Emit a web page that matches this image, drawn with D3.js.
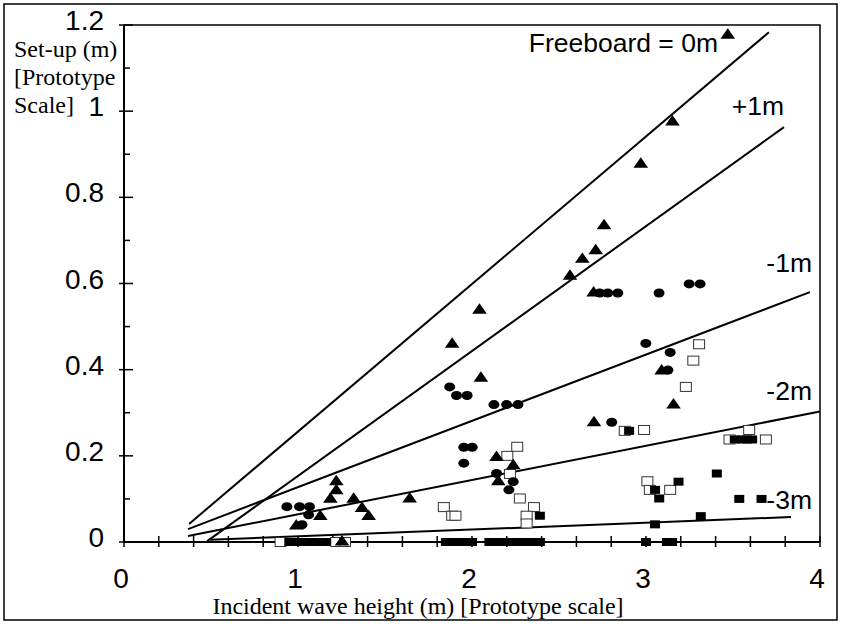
<!DOCTYPE html>
<html>
<head>
<meta charset="utf-8">
<script src="https://cdn.jsdelivr.net/npm/d3@7"></script>
<style>
  body { margin: 0; background: #fff; }
  svg { display: block; }
  .tick-label { font-family: "Liberation Sans", Arial, sans-serif; font-size: 28px; fill: #000; }
  .line-label { font-family: "Liberation Sans", Arial, sans-serif; font-size: 26.5px; fill: #000; }
  .axis-title { font-family: "Liberation Serif", "Times New Roman", serif; font-size: 24px; fill: #000; }
</style>
</head>
<body>
<svg width="842" height="624"></svg>
<script>
  // incident wave height (m), set-up (m)
  const triangles = [
    [3.47, 1.176], [3.152, 0.975], [2.97, 0.877], [2.759, 0.734], [2.711, 0.676],
    [2.634, 0.656], [2.563, 0.617], [2.699, 0.578], [2.043, 0.538], [1.886, 0.459],
    [2.051, 0.38], [2.141, 0.196], [2.237, 0.177], [2.151, 0.14], [1.22, 0.14],
    [1.22, 0.119], [1.186, 0.099], [1.32, 0.099], [1.368, 0.078], [1.406, 0.059],
    [1.128, 0.059], [1.642, 0.1], [1.253, 0.0], [0.99, 0.037], [3.158, 0.318],
    [3.09, 0.397], [2.701, 0.277]
  ];

  const circles = [
    [2.734, 0.578], [2.78, 0.578], [2.838, 0.578], [3.075, 0.578], [3.248, 0.599],
    [3.311, 0.599], [2.999, 0.461], [3.139, 0.44], [3.126, 0.399], [2.803, 0.278],
    [1.872, 0.36], [1.911, 0.34], [1.972, 0.34], [2.126, 0.319], [2.199, 0.319],
    [2.264, 0.319], [1.953, 0.22], [2.001, 0.22], [1.953, 0.183], [2.141, 0.159],
    [2.237, 0.14], [2.212, 0.121], [0.936, 0.082], [1.009, 0.082], [1.066, 0.082],
    [1.061, 0.063], [1.023, 0.04]
  ];

  const openSquares = [
    [3.305, 0.459], [3.272, 0.421], [3.229, 0.36], [2.989, 0.26], [3.593, 0.26],
    [3.689, 0.238], [3.48, 0.238], [2.878, 0.258], [3.008, 0.141], [3.022, 0.121],
    [3.139, 0.121], [2.26, 0.221], [2.203, 0.2], [2.218, 0.158], [2.275, 0.101],
    [1.838, 0.081], [1.886, 0.061], [1.905, 0.061], [2.356, 0.081], [2.314, 0.061],
    [2.314, 0.043], [0.9, 0.0], [1.22, 0.0], [1.27, 0.0]
  ];

  const filledSquares = [
    [2.903, 0.258], [3.052, 0.121], [3.076, 0.101], [3.187, 0.14], [3.407, 0.159],
    [3.536, 0.1], [3.664, 0.1], [3.315, 0.06], [3.052, 0.041], [3.51, 0.238],
    [3.55, 0.238], [3.58, 0.238], [3.61, 0.238], [2.39, 0.061],
    [0.95, 0], [0.98, 0], [1.01, 0], [1.04, 0], [1.07, 0], [1.1, 0], [1.13, 0], [1.16, 0],
    [1.85, 0], [1.88, 0], [1.91, 0], [1.94, 0], [1.97, 0], [2.0, 0],
    [2.1, 0], [2.13, 0], [2.16, 0],
    [2.21, 0], [2.24, 0], [2.27, 0], [2.3, 0], [2.33, 0], [2.36, 0], [2.39, 0],
    [3.0, 0], [3.12, 0], [3.15, 0]
  ];

  // fitted lines, one per freeboard: [x0, y0, x1, y1]
  const fitNames = ['Freeboard = 0m', '+1m', '-1m', '-2m', '-3m'];
  const fitLines = [
    [0.374, 0.042, 3.706, 1.183],
    [0.478, 0.002, 3.793, 0.963],
    [0.368, 0.03, 3.942, 0.58],
    [0.368, 0.014, 4.0, 0.303],
    [0.495, 0.005, 3.833, 0.058]
  ];

  const xTickLabels = [0, 1, 2, 3, 4];
  const yTickLabels = [0, 0.2, 0.4, 0.6, 0.8, 1, 1.2];

  const svg = d3.select('svg');

  const x = d3.scaleLinear().domain([0, 4]).range([124, 820]);
  const y = d3.scaleLinear().domain([0, 1.2]).range([542, 25]);

  // outer frame
  svg.append('rect')
    .attr('x', 4).attr('y', 4)
    .attr('width', 833).attr('height', 616)
    .attr('fill', 'none')
    .attr('stroke', '#000')
    .attr('stroke-width', 1.5);

  // plot box
  svg.append('path')
    .attr('d', `M${x(0)},${y(1.2)}H${x(4)}V${y(0)}`)
    .attr('fill', 'none')
    .attr('stroke', '#000')
    .attr('stroke-width', 1.5);

  svg.append('line')
    .attr('x1', x(0)).attr('x2', x(4))
    .attr('y1', y(0)).attr('y2', y(0))
    .attr('stroke', '#000').attr('stroke-width', 2);

  svg.append('line')
    .attr('x1', x(0)).attr('x2', x(0))
    .attr('y1', y(0)).attr('y2', y(1.2))
    .attr('stroke', '#000').attr('stroke-width', 2);

  // ticks cross the axes
  const yTicks = d3.range(0, 12.5).map(i => i / 10);
  svg.append('g').selectAll('line').data(yTicks)
    .enter().append('line')
      .attr('x1', (d, i) => x(0) - (i % 2 ? 0 : 5))
      .attr('x2', (d, i) => x(0) + (i % 2 ? 6 : 9))
      .attr('y1', d => y(d)).attr('y2', d => y(d))
      .attr('stroke', '#000').attr('stroke-width', 1.5);

  const xTicks = d3.range(0, 20.5).map(i => i / 5);
  svg.append('g').selectAll('line').data(xTicks)
    .enter().append('line')
      .attr('x1', d => x(d)).attr('x2', d => x(d))
      .attr('y1', y(0) - 6).attr('y2', y(0) + 5)
      .attr('stroke', '#000').attr('stroke-width', 1.5);

  svg.append('g').selectAll('text').data(yTickLabels)
    .enter().append('text')
      .attr('class', 'tick-label')
      .attr('x', 104)
      .attr('y', d => y(d) + 5)
      .attr('text-anchor', 'end')
      .text(d => d);

  svg.append('g').selectAll('text').data(xTickLabels)
    .enter().append('text')
      .attr('class', 'tick-label')
      .attr('x', d => x(d) - 3)
      .attr('y', 588)
      .attr('text-anchor', 'middle')
      .text(d => d);

  // axis titles
  svg.append('text')
    .attr('class', 'axis-title')
    .attr('x', 418).attr('y', 614)
    .attr('text-anchor', 'middle')
    .text('Incident wave height (m) [Prototype scale]');

  svg.append('text')
    .attr('class', 'axis-title')
    .selectAll('tspan')
    .data(['Set-up (m)', '[Prototype', 'Scale]'])
    .enter().append('tspan')
      .attr('x', 14)
      .attr('y', (d, i) => 57 + i * 28)
      .text(d => d);

  // fitted lines
  svg.append('g').selectAll('line').data(fitLines)
    .enter().append('line')
      .attr('x1', d => x(d[0])).attr('y1', d => y(d[1]))
      .attr('x2', d => x(d[2])).attr('y2', d => y(d[3]))
      .attr('stroke', '#000').attr('stroke-width', 2);

  const labelPos = [[718, 52], [784, 115], [812, 272], [812, 400], [812, 509]];
  svg.append('g').selectAll('text').data(fitNames)
    .enter().append('text')
      .attr('class', 'line-label')
      .attr('x', (d, i) => labelPos[i][0])
      .attr('y', (d, i) => labelPos[i][1])
      .attr('text-anchor', 'end')
      .text(d => d);

  // markers
  const marks = svg.append('g');

  marks.selectAll('.open-sq').data(openSquares)
    .enter().append('rect')
      .attr('class', 'open-sq')
      .attr('x', d => x(d[0]) - 5.5).attr('y', d => y(d[1]) - 4.5)
      .attr('width', 11).attr('height', 9)
      .attr('fill', '#fff')
      .attr('stroke', '#333').attr('stroke-width', 1);

  marks.selectAll('.filled-sq').data(filledSquares)
    .enter().append('rect')
      .attr('class', 'filled-sq')
      .attr('x', d => x(d[0]) - 5).attr('y', d => y(d[1]) - 4)
      .attr('width', 10).attr('height', 8)
      .attr('fill', '#000');

  marks.selectAll('.circle').data(circles)
    .enter().append('ellipse')
      .attr('class', 'circle')
      .attr('cx', d => x(d[0])).attr('cy', d => y(d[1]))
      .attr('rx', 5.5).attr('ry', 4.5)
      .attr('fill', '#000');

  const tri = d3.symbol().type(d3.symbolTriangle).size(70);
  marks.selectAll('.tri').data(triangles)
    .enter().append('path')
      .attr('class', 'tri')
      .attr('transform', d => `translate(${x(d[0])},${y(d[1])}) scale(1.15,0.95)`)
      .attr('d', tri)
      .attr('fill', '#000');
</script>
</body>
</html>
